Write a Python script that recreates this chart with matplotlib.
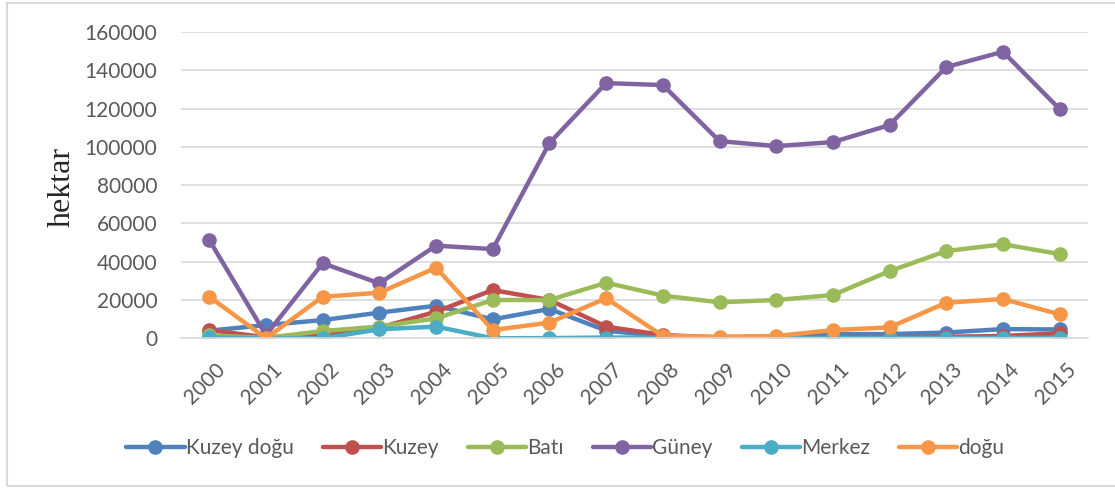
"""Yıllara göre bölgesel yanan alan (hektar), 2000-2015."""
import matplotlib
matplotlib.use("Agg")
import matplotlib.pyplot as plt  # noqa: E402
from matplotlib.patches import Rectangle  # noqa: E402
from matplotlib.transforms import ScaledTranslation  # noqa: E402

years = [str(y) for y in range(2000, 2016)]

kuzey_dogu = [4000, 6900, 9500, 13400, 17000, 9900, 15300, 4000, 1000, 300, 300, 2200, 2200, 3000, 4800, 4600]
kuzey = [4300, 500, 2000, 5500, 13900, 25200, 20000, 6100, 1700, 400, 300, 400, 500, 800, 1200, 2600]
bati = [1500, 200, 3800, 6100, 10400, 20000, 20000, 29000, 22300, 18800, 20000, 22600, 35100, 45600, 49100, 44000]
guney = [51300, 1700, 39200, 28700, 48400, 46600, 102000, 133300, 132300, 103000, 100400, 102500, 111400, 141700, 149700, 119700]
merkez = [500, 0, 0, 4700, 6100, 0, 100, 400, 300, 100, 100, 200, 200, 200, 200, 200]
dogu = [21700, 0, 21700, 23800, 36900, 4300, 8200, 20900, 1200, 850, 1200, 4300, 5700, 18600, 20500, 12500]

series = [
    ("Kuzey doğu", kuzey_dogu, "#4F81BD"),
    ("Kuzey", kuzey, "#C0504D"),
    ("Batı", bati, "#9BBB59"),
    ("Güney", guney, "#8064A2"),
    ("Merkez", merkez, "#4BACC6"),
    ("doğu", dogu, "#F79646"),
]

TXT = "#595959"
GRID = "#D9D9D9"
plt.rcParams["font.family"] = ["Lato", "DejaVu Sans"]

fig = plt.figure(figsize=(11.15, 4.88), dpi=100)
ax = fig.add_axes([0.1623, 0.3068, 0.8135, 0.6276])

x = range(len(years))
for name, vals, col in series:
    ax.plot(x, vals, "-o", color=col, lw=3.2, ms=9.5, label=name,
            solid_capstyle="round")

ax.set_xlim(-0.5, len(years) - 0.5)
ax.set_ylim(0, 160000)
ax.set_yticks(range(0, 160001, 20000))
ax.set_xticks(list(x))
ax.set_xticklabels(years, rotation=45, ha="right", rotation_mode="anchor")
ax.tick_params(axis="both", length=0, labelsize=15, colors=TXT)
ax.tick_params(axis="y", pad=17)
ax.tick_params(axis="x", pad=15)
shift = ScaledTranslation(6 / 100, 0, fig.dpi_scale_trans)
for lab in ax.get_xticklabels():
    lab.set_transform(lab.get_transform() + shift)
ax.yaxis.grid(True, color=GRID, lw=1.2)
ax.set_axisbelow(True)
for s in ("top", "right", "left"):
    ax.spines[s].set_visible(False)
ax.spines["bottom"].set_color(GRID)
ax.spines["bottom"].set_linewidth(1.2)

ax.set_ylabel("hektar", family="Liberation Serif", fontsize=23, color="#262626")
ax.yaxis.set_label_coords(-0.1147, 0.494)

fig.legend(loc="center", bbox_to_anchor=(0.507, 0.082), ncol=6, frameon=False,
           fontsize=15, handlelength=2.8, handletextpad=0.05, columnspacing=1.4,
           labelcolor=TXT)

fig.patches.append(Rectangle((0.0063, 0.004), 1.0, 0.99, transform=fig.transFigure,
                             fill=False, edgecolor=GRID, lw=1.5))

fig.savefig("out.png", dpi=100)
